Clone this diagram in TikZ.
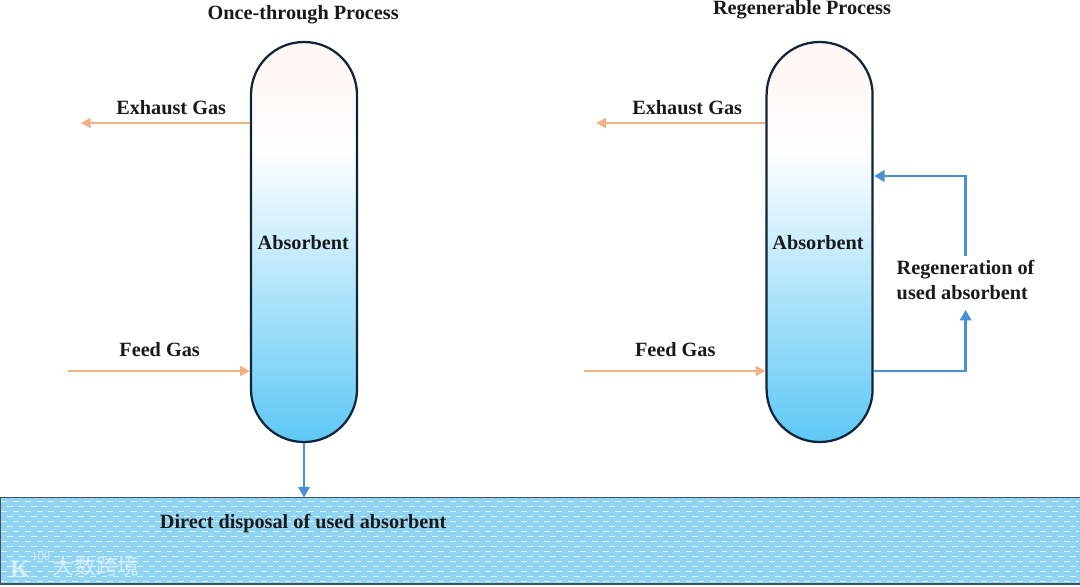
\documentclass[tikz,border=0pt]{standalone}
\usepackage{fontspec}
\setmainfont{Liberation Serif}
\newfontfamily\cjk{Noto Sans CJK SC}
\usetikzlibrary{arrows.meta, calc, positioning}

\definecolor{gasorange}{HTML}{F4B183}
\definecolor{flowblue}{HTML}{4A90D9}
\definecolor{rimdark}{HTML}{10253A}
\definecolor{pondblue}{HTML}{8FD4F3}
\definecolor{colbottom}{HTML}{5CC8F5}
\definecolor{coltop}{HTML}{FFF8F4}
\pgfdeclareverticalshading{columnfade}{100bp}{
	color(0bp)=(colbottom);
	color(25bp)=(colbottom);
	color(61.5bp)=(white);
	color(70bp)=(coltop);
	color(100bp)=(coltop)
}

\tikzset{
	colbox/.style={draw=rimdark, line width=1.6pt, shading=columnfade, minimum width=2.65cm, minimum height=10cm, rounded corners=1.32cm},
	txtbold/.style={font=\fontsize{14.4}{17.5}\selectfont\bfseries, text=black!90, inner sep=0pt},
	gasline/.style={draw=gasorange, line width=2pt, -{Triangle[length=7pt, width=7pt]}},
	flowline/.style={draw=flowblue, line width=2pt, -{Triangle[length=7.5pt, width=8pt]}},
	wmark/.style={text=white, opacity=0.6, inner sep=0pt}
}

\begin{document}
\begin{tikzpicture}
	\useasboundingbox (0, 0) rectangle (27, 14.65);

	% pond
	\node[minimum width=27cm, minimum height=2.15cm, fill=pondblue, inner sep=0pt, anchor=south west] (pond) at (0, 0.05) {};
	\foreach \row in {0, ..., 16} {
		\pgfmathsetmacro{\rowy}{0.12 + 0.125*\row}
		\pgfmathsetmacro{\rowphase}{mod(\row, 2)*4.2}
		\draw[white, opacity=0.75, line width=0.8pt, dash pattern=on 4.2pt off 4.2pt, dash phase=\rowphase pt] (0.03, \rowy) -- (26.97, \rowy);
	}
	\draw[rimdark!80, line width=1.2pt] (pond.south west) rectangle (pond.north east);

	% columns
	\node[colbox] (colA) at (7.6, 8.6) {};
	\node[colbox] (colB) at (20.49, 8.6) {};

	% titles
	\node[txtbold] (titleA) at (7.58, 14.28) {Once-through Process};
	\node[txtbold] (titleB) at (20.05, 14.4) {Regenerable Process};

	\node[txtbold] (absA) at (7.58, 8.58) {Absorbent};
	\node[txtbold] (absB) at (20.45, 8.58) {Absorbent};

	\node[txtbold] (exhaustA) at (4.28, 11.95) {Exhaust Gas};
	\node[txtbold] (exhaustB) at (17.18, 11.95) {Exhaust Gas};
	\node[txtbold] (feedA) at (3.99, 5.9) {Feed Gas};
	\node[txtbold] (feedB) at (16.88, 5.9) {Feed Gas};

	\node[txtbold, align=left] (regen) at (24.14, 7.65) {Regeneration of\\used absorbent};
	\node[txtbold] (direct) at (7.58, 1.57) {Direct disposal of used absorbent};

	% free ends
	\coordinate (outA) at (2.02, 11.575);
	\coordinate (outB) at (14.9, 11.575);
	\coordinate (inA) at (1.7, 5.375);
	\coordinate (inB) at (14.6, 5.375);
	\coordinate (backB) at (21.85, 10.25);

	\draw[gasline] (colA.west |- outA) -- (outA);
	\draw[gasline] (colB.west |- outB) -- (outB);
	\draw[gasline] (inA) -- (colA.west |- inA);
	\draw[gasline] (inB) -- (colB.west |- inB);

	\draw[flowline] (colA.south) -- (colA.south |- pond.north);
	\draw[flowline] (colB.east |- inB) -| ($(regen.south)+(0, -0.25)$);
	\draw[flowline] ($(regen.north)+(0, 0.1)$) |- (backB);

	% watermark
	\node[wmark, font=\bfseries\fontsize{18}{18}\selectfont] (logoK) at (0.5, 0.42) {K};
	\node[wmark, font=\fontsize{9}{9}\selectfont] (logoN) at (1.02, 0.75) {100};
	\node[wmark, font=\cjk\fontsize{15.5}{16}\selectfont] (logoT) at (2.4, 0.5) {大数跨境};
\end{tikzpicture}
\end{document}
